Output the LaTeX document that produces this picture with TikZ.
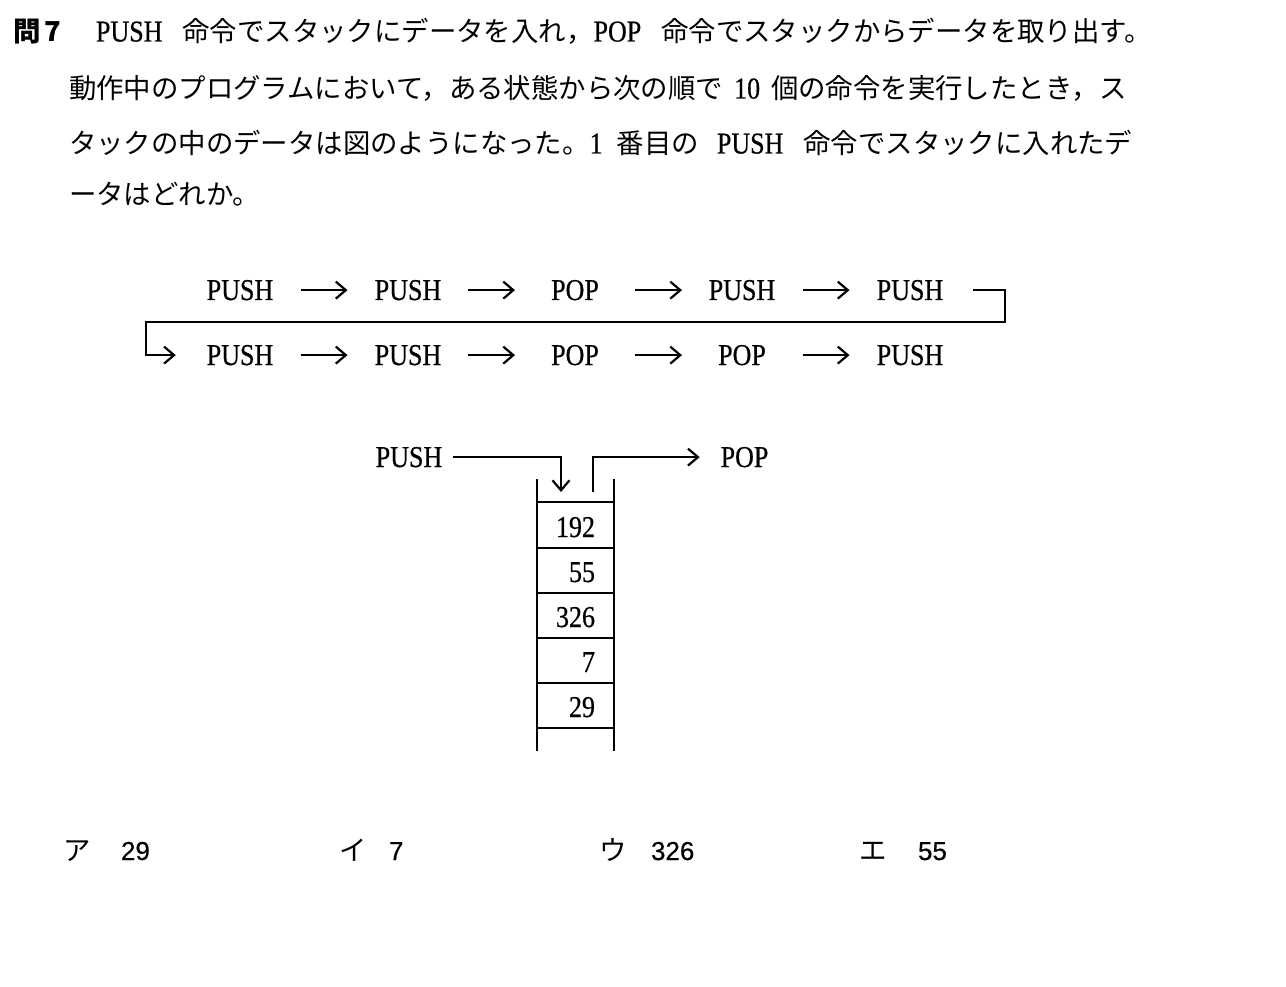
\documentclass[tikz,border=0pt]{standalone}
\usepackage{fontspec}
\setmainfont[Scale=1.12,FakeStretch=0.86,FakeBold=0.6]{Liberation Serif}
\newfontfamily\jp[Scale=1.015]{Noto Sans CJK JP}
\newfontfamily\sansnum[FakeBold=0.5]{Liberation Sans}
\usetikzlibrary{arrows.meta,calc}
\begin{document}
\begin{tikzpicture}[x=1pt,y=-1pt,line width=2pt,
  txt/.style={inner sep=0pt,anchor=base,font=\fontsize{27}{32}\selectfont},
  para/.style={inner sep=0pt,anchor=base west,font=\fontsize{27}{32}\selectfont},
  optk/.style={inner sep=0pt,anchor=base west,font=\fontsize{27}{32}\selectfont\jp},
  optn/.style={inner sep=0pt,anchor=base west,font=\fontsize{26}{32}\selectfont\sansnum},
  arr/.style={-{Straight Barb[length=10pt,width=17pt]},line width=2.2pt},
  stk/.style={line width=2.4pt}]
\useasboundingbox (0,0) rectangle (1286,987);
\fill[white] (0,0) rectangle (1286,987);
% question text
\node[para] (hd) at (12,41.5) {{\jp\bfseries 問\hspace{4pt}7}};
\node[para] (l1) at (95,41.5) {PUSH\hspace{20pt}{\jp 命令でスタックにデータを入れ，}POP\hspace{20pt}{\jp 命令でスタックからデータを取り出す。}};
\node[para] (l2) at (68,98.5) {{\jp 動作中のプログラムにおいて，ある状態から次の順で}\hspace{11pt}10\hspace{11pt}{\jp 個の命令を実行したとき，ス}};
\node[para] (l3) at (68,153.5) {{\jp タックの中のデータは図のようになった。}1\hspace{14pt}{\jp 番目の}\hspace{18pt}PUSH\hspace{20pt}{\jp 命令でスタックに入れたデ}};
\node[para] (l4) at (68,204.5) {{\jp ータはどれか。}};
% instruction sequence
\foreach [count=\i] \t/\x in {PUSH/240,PUSH/408,POP/575,PUSH/742,PUSH/910}
  \node[txt] (a\i) at (\x,300) {\t};
\foreach [count=\i] \t/\x in {PUSH/240,PUSH/408,POP/575,POP/742,PUSH/910}
  \node[txt] (b\i) at (\x,365) {\t};
\foreach \i/\j in {1/2,2/3,3/4,4/5}{
  \draw[arr] ($(a\i)!.5!(a\j)+(-23.5,0)$) -- ($(a\i)!.5!(a\j)+(23.5,0)$);
  \draw[arr] ($(b\i)!.5!(b\j)+(-23.5,0)$) -- ($(b\i)!.5!(b\j)+(23.5,0)$);
}
\coordinate (brR) at (1005,322);
\coordinate (brL) at (146,322);
\draw[arr] ([xshift=29pt]a5.east) -| (brR) -- (brL) |- ([xshift=-30pt]b1.west);
% stack
\draw[stk] (537,479) -- (537,751);
\draw[stk] (614,479) -- (614,751);
\foreach \y in {502,548,593,638,683,728}
  \draw[stk] (537,\y) -- (614,\y);
\foreach [count=\i] \v/\y in {192/537,55/582,326/627,7/672,29/717}
  \node[txt,anchor=base east] (n\i) at (596,\y) {\v};
\node[txt] (sp) at (409,467) {PUSH};
\node[txt] (so) at (744.5,467) {POP};
\coordinate (pin) at (561,492);
\coordinate (pout) at (593,492);
\draw[arr] ([xshift=10pt]sp.east) -| (pin);
\draw[arr] (pout) |- ([xshift=-20pt]so.west);
% options
\node[optk] (k1) at (62,860) {ア};
\node[optn] (v1) at (120,860) {29};
\node[optk] (k2) at (338,860) {イ};
\node[optn] (v2) at (388,860) {7};
\node[optk] (k3) at (598,860) {ウ};
\node[optn] (v3) at (650,860) {326};
\node[optk] (k4) at (858,860) {エ};
\node[optn] (v4) at (917,860) {55};
\end{tikzpicture}
\end{document}
